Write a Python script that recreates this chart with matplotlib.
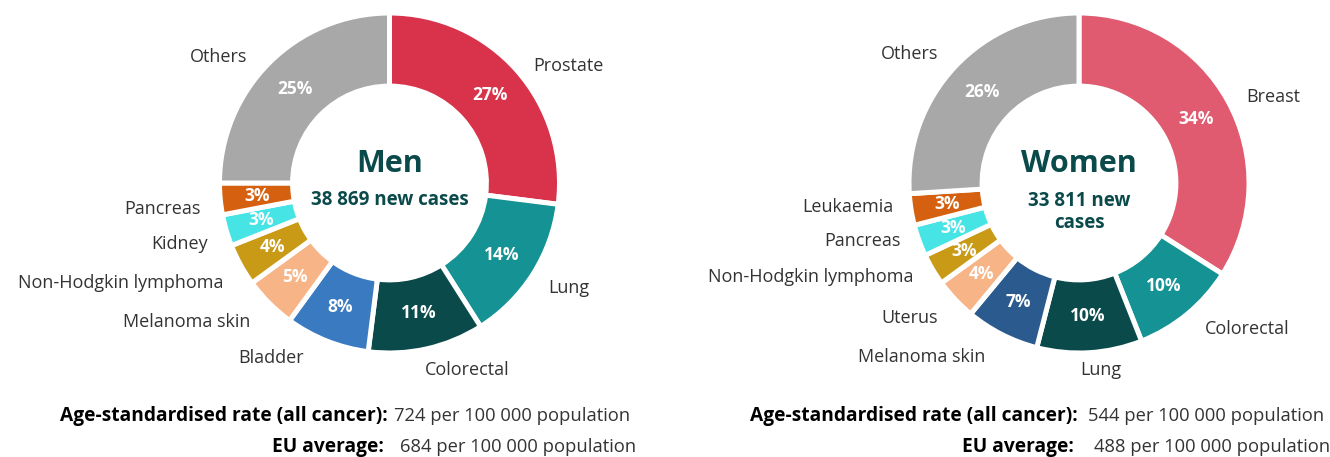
import matplotlib.pyplot as plt
import numpy as np

# data
men_labels = ['Prostate', 'Lung', 'Colorectal', 'Bladder', 'Melanoma skin',
              'Non-Hodgkin lymphoma', 'Kidney', 'Pancreas', 'Others']
men_values = [27, 14, 11, 8, 5, 4, 3, 3, 25]
men_colors = ['#D9334B', '#149294', '#0B4A4B', '#3A7AC0', '#F7B487',
              '#C99A16', '#47E4E6', '#D5600F', '#A8A8A8']

women_labels = ['Breast', 'Colorectal', 'Lung', 'Uterus', 'Melanoma skin',
                'Non-Hodgkin lymphoma', 'Pancreas', 'Leukaemia', 'Others']
women_values = [34, 10, 10, 7, 4, 3, 3, 3, 26]
women_colors = ['#E05B6F', '#149294', '#0B4A4B', '#2B5B8E', '#F7B487',
                '#C99A16', '#47E4E6', '#D5600F', '#A8A8A8']

men_title = 'Men'
men_cases = '38 869 new cases'
women_title = 'Women'
women_cases = '33 811 new\ncases'

rate_label = 'Age-standardised rate (all cancer):'
eu_label = 'EU average:'
men_rate = '724 per 100 000 population'
men_eu = '684 per 100 000 population'
women_rate = '544 per 100 000 population'
women_eu = '488 per 100 000 population'

# layout (pixel positions, y measured from top)
W, H = 1330, 457
R = 170
hole = 0.57
men_center = (389.5, 183)
women_center = (1079, 183)

# label anchor positions (x, y from top, ha)
men_label_pos = [(533, 66, 'left'), (548, 288, 'left'), (425, 370, 'left'),
                 (304, 358, 'right'), (250, 322, 'right'), (223, 283, 'right'),
                 (208, 244, 'right'), (201, 209, 'right'), (247, 57, 'right')]
women_label_pos = [(1246, 97, 'left'), (1205, 329, 'left'), (1080, 370, 'left'),
                   (938, 318, 'right'), (985, 357, 'right'), (914, 277, 'right'),
                   (901, 241, 'right'), (893, 207, 'right'), (938, 54, 'right')]

plt.rcParams['font.family'] = ['Open Sans', 'DejaVu Sans']
dark = '#0B4A4B'
txt = '#333333'

fig = plt.figure(figsize=(W / 100, H / 100), dpi=100)
ax = fig.add_axes([0, 0, 1, 1])


def donut(values, colors, center, names, label_pos, title, cases):
    cx, cy = center[0], H - center[1]
    wedges, _ = ax.pie(values, colors=colors, startangle=90, counterclock=False,
                       radius=R, center=(cx, cy),
                       wedgeprops=dict(width=R * (1 - hole), edgecolor='white', linewidth=3.6))
    total = sum(values)
    cum = 0
    for v in values:
        mid = 90 - (cum + v / 2) / total * 360
        cum += v
        r = R * (1 + hole) / 2
        ax.text(cx + r * np.cos(np.radians(mid)), cy + r * np.sin(np.radians(mid)),
                f'{v}%', ha='center', va='center', color='white',
                fontsize=12.5, fontweight='bold')
    for name, (x, y, ha) in zip(names, label_pos):
        ax.text(x, H - y, name, ha=ha, va='center', color=txt, fontsize=13)
    ax.text(cx, cy + 19, title, ha='center', va='center', color=dark,
            fontsize=22, fontweight='bold')
    ax.text(cx, cy - 17 if '\n' not in cases else cy - 29, cases, ha='center',
            va='center', color=dark, fontsize=13.5, fontweight='bold', linespacing=1.15)


donut(men_values, men_colors, men_center, men_labels, men_label_pos, men_title, men_cases)
donut(women_values, women_colors, women_center, women_labels, women_label_pos,
      women_title, women_cases)

# rate lines
for bx, vx, rate, eu in [(388, 394, men_rate, men_eu), (1078, 1088, women_rate, women_eu)]:
    ax.text(bx, H - 416, rate_label, ha='right', va='center', color='black',
            fontsize=13.8, fontweight='bold')
    ax.text(vx, H - 416, rate, ha='left', va='center', color=txt, fontsize=13.2)
    ax.text(bx - 4, H - 447, eu_label, ha='right', va='center', color='black',
            fontsize=13.8, fontweight='bold')
    ax.text(vx + 6, H - 447, eu, ha='left', va='center', color=txt, fontsize=13.2)

ax.set_xlim(0, W)
ax.set_ylim(0, H)
ax.set_aspect('auto')
ax.axis('off')

fig.savefig('out.png', dpi=100)
